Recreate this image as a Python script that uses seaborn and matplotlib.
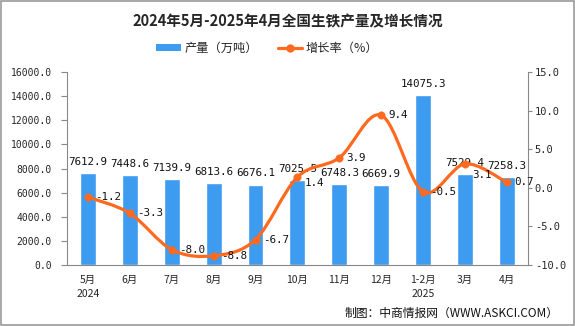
import numpy as np
import pandas as pd
import matplotlib
matplotlib.use("Agg")
import matplotlib.pyplot as plt
import seaborn as sns
from matplotlib.path import Path
from matplotlib.patches import PathPatch, Rectangle
from matplotlib.lines import Line2D
from matplotlib.patches import Patch

categories = ["5月\n2024", "6月", "7月", "8月", "9月", "10月", "11月", "12月", "1-2月\n2025", "3月", "4月"]
output = [7612.9, 7448.6, 7139.9, 6813.6, 6676.1, 7025.5, 6748.3, 6669.9, 14075.3, 7529.4, 7258.3]
growth = [-1.2, -3.3, -8.0, -8.8, -6.7, 1.4, 3.9, 9.4, -0.5, 3.1, 0.7]
left_ticks = [0, 2000, 4000, 6000, 8000, 10000, 12000, 14000, 16000]
right_ticks = [-10, -5, 0, 5, 10, 15]

BAR = "#3D9BF0"
LINE = "#FF6A1F"
GRAY = "#888888"
NUM = ['DejaVu Sans Mono']

sns.set_style("white")
plt.rcParams['font.family'] = ['Noto Sans CJK SC', 'DejaVu Sans']
plt.rcParams['axes.unicode_minus'] = False

fig = plt.figure(figsize=(5.75, 3.26), dpi=100)
ax = fig.add_axes([0.1165, 0.187, 0.8015, 0.592])

df = pd.DataFrame({"cat": categories, "output": output, "growth": growth})
sns.barplot(data=df, x="cat", y="output", color=BAR, width=0.38, ax=ax, saturation=1)
ax.set_xlim(-0.5, len(categories) - 0.5)
ax.set_ylim(0, 16000)
ax.set_yticks(left_ticks)
ax.set_yticklabels([f"{v:.1f}" for v in left_ticks], fontsize=7, family=NUM)
ax.set_xlabel("")
ax.set_ylabel("")
ax.set_xticks(range(len(categories)))
ax.set_xticklabels(categories, fontsize=7.5, linespacing=1.5)
ax.tick_params(axis='x', length=0, pad=7)
ax.set_xticks(np.arange(-0.5, len(categories)), minor=True)
ax.tick_params(axis='x', which='minor', length=4, color=GRAY, width=0.8)
ax.tick_params(axis='y', length=4, color=GRAY, width=0.8, left=True, pad=7)
for s in ["top", "right"]:
    ax.spines[s].set_visible(False)
for s in ["left", "bottom"]:
    ax.spines[s].set_color(GRAY)
    ax.spines[s].set_linewidth(0.8)

for i, v in enumerate(output):
    ax.text(i, v + 500, f"{v:.1f}", ha="center", va="bottom", fontsize=7.8, color="#111111", family=NUM)

ax2 = ax.twinx()
ax2.set_ylim(-10, 15)
ax2.set_yticks(right_ticks)
ax2.set_yticklabels([f"{v:.1f}" for v in right_ticks], fontsize=7.5, family=NUM)
ax2.tick_params(axis='y', length=3, color=GRAY, width=0.8, right=True, pad=2)
for s in ["top", "left", "bottom"]:
    ax2.spines[s].set_visible(False)
ax2.spines["right"].set_color(GRAY)
ax2.spines["right"].set_linewidth(0.8)
ax2.grid(False)

# smooth curve (Catmull-Rom as cubic Bezier)
x = np.arange(len(growth), dtype=float)
y = np.array(growth, dtype=float)
pts = np.column_stack([x, y])
verts = [tuple(pts[0])]
codes = [Path.MOVETO]
n = len(pts)
for i in range(n - 1):
    p0 = pts[i - 1] if i > 0 else pts[i]
    p1 = pts[i]
    p2 = pts[i + 1]
    p3 = pts[i + 2] if i + 2 < n else pts[i + 1]
    c1 = p1 + (p2 - p0) / 6
    c2 = p2 - (p3 - p1) / 6
    verts += [tuple(c1), tuple(c2), tuple(p2)]
    codes += [Path.CURVE4] * 3
ax2.add_patch(PathPatch(Path(verts, codes), facecolor="none", edgecolor=LINE, lw=2.3, zorder=3))
sns.scatterplot(x=x, y=y, color=LINE, s=28, edgecolor=LINE, ax=ax2, zorder=4, legend=False)

label_dy = {5: -0.8, 9: -1.5}
for i, v in enumerate(growth):
    ax2.text(i + 0.17, v + label_dy.get(i, 0), f"{v:.1f}", ha="left", va="center", fontsize=7.8,
             color="#111111", family=NUM, zorder=5)

fig.text(0.5, 0.935, "2024年5月-2025年4月全国生铁产量及增长情况", ha="center", va="center",
         fontsize=10.5, fontweight="bold")
handles = [Patch(facecolor=BAR, edgecolor="none"),
           Line2D([0], [0], color=LINE, lw=2.3, marker="o", markersize=5)]
fig.legend(handles, ["产量（万吨）", "增长率（%）"], loc="center", bbox_to_anchor=(0.465, 0.853),
           ncol=2, frameon=False, fontsize=8.8, handlelength=2.0, handleheight=0.5,
           columnspacing=1.6, handletextpad=0.3)
fig.text(0.972, 0.04, "制图：中商情报网（WWW.ASKCI.COM）", ha="right", va="center", fontsize=8.5, color="#111111")

fig.patches.append(Rectangle((0.001, 0.002), 0.997, 0.995, transform=fig.transFigure,
                             fill=False, edgecolor="#999999", lw=1.2))

fig.savefig("out.png", dpi=100)
